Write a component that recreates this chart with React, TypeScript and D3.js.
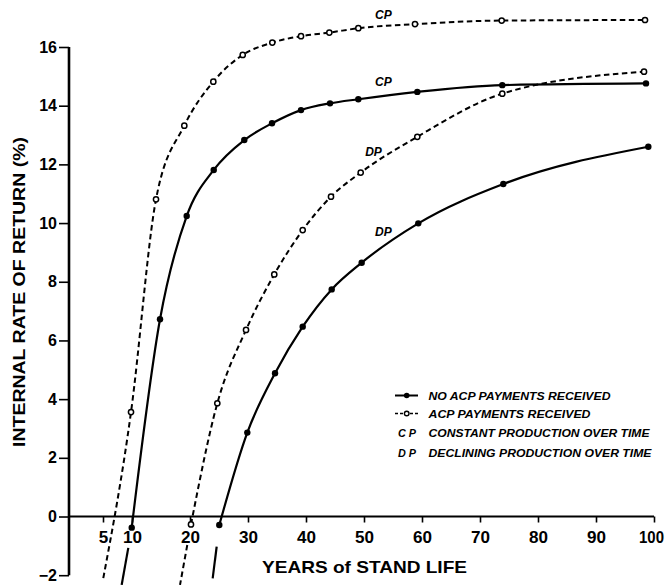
import React, { useRef, useEffect } from 'react';
import * as d3 from 'd3';

const W = 667;
const H = 585;
const FONT = '"Liberation Sans", Arial, Helvetica, sans-serif';

// ACP payments received, constant production (dashed, open circles)
const acpConstant = [
  { x: 9.83, y: 3.56 }, { x: 14.14, y: 10.81 }, { x: 19.02, y: 13.32 }, { x: 24.02, y: 14.82 },
  { x: 29.09, y: 15.73 }, { x: 34.19, y: 16.15 }, { x: 39.14, y: 16.37 }, { x: 44.02, y: 16.49 },
  { x: 49.02, y: 16.64 }, { x: 58.79, y: 16.78 }, { x: 73.74, y: 16.9 }, { x: 98.45, y: 16.92 },
];
const acpConstantLead = [{ x: 5.05, y: -2.1 }];

// no ACP payments, constant production (solid, filled circles)
const noAcpConstant = [
  { x: 9.95, y: -0.38 }, { x: 14.83, y: 6.72 }, { x: 19.43, y: 10.24 }, { x: 24.09, y: 11.81 },
  { x: 29.36, y: 12.83 }, { x: 34.14, y: 13.4 }, { x: 39.14, y: 13.85 }, { x: 44.14, y: 14.08 },
  { x: 49.02, y: 14.22 }, { x: 59.19, y: 14.47 }, { x: 73.84, y: 14.7 }, { x: 98.62, y: 14.76 },
];
const noAcpConstantTail = [{ x: 9.36, y: -1.07 }, { x: 8.22, y: -2.33 }];

// ACP payments received, declining production
const acpDeclining = [
  { x: 20.17, y: -0.27 }, { x: 24.71, y: 3.86 }, { x: 29.66, y: 6.36 }, { x: 34.53, y: 8.25 },
  { x: 39.43, y: 9.76 }, { x: 44.31, y: 10.9 }, { x: 49.43, y: 11.72 }, { x: 59.19, y: 12.94 },
  { x: 73.84, y: 14.41 }, { x: 98.28, y: 15.16 },
];
const acpDecliningTail = [{ x: 19.53, y: -0.97 }, { x: 18.28, y: -2.33 }];

// no ACP payments, declining production
const noAcpDeclining = [
  { x: 25.05, y: -0.29 }, { x: 29.88, y: 2.86 }, { x: 34.66, y: 4.88 }, { x: 39.43, y: 6.47 },
  { x: 44.43, y: 7.74 }, { x: 49.6, y: 8.65 }, { x: 59.36, y: 9.99 }, { x: 74.02, y: 11.33 },
  { x: 99.02, y: 12.6 },
];
const noAcpDecliningTail = [{ x: 24.6, y: -1.03 }, { x: 23.91, y: -2.11 }];

const yTicks = [-2, 0, 2, 4, 6, 8, 10, 12, 14, 16];
const xTicks = [5, 10, 20, 30, 40, 50, 60, 70, 80, 90, 100];

const curveLabels = [
  { text: 'CP', x: 51.9, y: 16.94 },
  { text: 'CP', x: 51.9, y: 14.67 },
  { text: 'DP', x: 50.2, y: 12.29 },
  { text: 'DP', x: 51.9, y: 9.56 },
];

const legendRows = [
  { key: 'solid', text: 'NO ACP PAYMENTS RECEIVED', len: 182 },
  { key: 'dashed', text: 'ACP PAYMENTS RECEIVED', len: 162 },
  { key: 'C P', text: 'CONSTANT PRODUCTION OVER TIME', len: 221 },
  { key: 'D P', text: 'DECLINING PRODUCTION OVER TIME', len: 223 },
];

export default function App() {
  const svgRef = useRef<SVGSVGElement>(null);

  useEffect(() => {
    if (!svgRef.current) return;
    const svg = d3.select(svgRef.current);
    svg.selectAll('*').remove();

    const x = d3.scaleLinear().domain([0, 100]).range([74, 654]);
    const y = d3.scaleLinear().domain([-2, 16]).range([575.2, 47]);
    const axisX = 69;

    // y axis
    const gy = svg.append('g').attr('transform', `translate(${axisX},0)`);
    gy.call(d3.axisLeft(y).tickValues(yTicks).tickSize(10).tickPadding(2).tickFormat(d3.format('d')))
      .call(a => a.select('.domain').remove())
      .call(a => a.selectAll('line').attr('stroke', '#000').attr('stroke-width', 1.6))
      .call(a => a.selectAll('text').attr('fill', '#000').attr('font-size', 16)
        .attr('font-weight', 700).attr('font-family', FONT));
    gy.append('line').attr('x1', 0).attr('x2', 0).attr('y1', y(16)).attr('y2', y(-2))
      .attr('stroke', '#000').attr('stroke-width', 2.6);

    // x axis along zero
    const gx = svg.append('g').attr('transform', `translate(0,${y(0)})`);
    gx.call(d3.axisBottom(x).tickValues(xTicks).tickSize(6).tickPadding(8).tickFormat(d3.format('d')))
      .call(a => a.select('.domain').remove())
      .call(a => a.selectAll('line').attr('stroke', '#000').attr('stroke-width', 1.6))
      .call(a => a.selectAll('text').attr('fill', '#000').attr('font-size', 17)
        .attr('font-weight', 700).attr('font-family', FONT)
        .attr('lengthAdjust', 'spacingAndGlyphs')
        .attr('textLength', (d: any) => (d >= 100 ? 25 : d >= 10 ? 19 : 9.5))
        .attr('dx', (d: any) => (d >= 100 ? -3 : 0)));
    gx.append('line').attr('x1', axisX).attr('x2', x(100)).attr('y1', 0).attr('y2', 0)
      .attr('stroke', '#000').attr('stroke-width', 2.2);

    // titles
    svg.append('text').attr('transform', `translate(25,292) rotate(-90)`)
      .attr('text-anchor', 'middle').attr('font-size', 17).attr('font-weight', 700)
      .attr('font-family', FONT).attr('textLength', 310).attr('lengthAdjust', 'spacingAndGlyphs')
      .text('INTERNAL RATE OF RETURN (%)');
    svg.append('text').attr('x', 262).attr('y', 572.5)
      .attr('font-size', 17).attr('font-weight', 700).attr('font-family', FONT)
      .attr('textLength', 205).attr('lengthAdjust', 'spacingAndGlyphs')
      .text('YEARS of STAND LIFE');

    const series = [
      { pts: acpConstant, lead: acpConstantLead, tail: [], dashed: true },
      { pts: noAcpConstant, lead: [], tail: noAcpConstantTail, dashed: false },
      { pts: acpDeclining, lead: [], tail: acpDecliningTail, dashed: true },
      { pts: noAcpDeclining, lead: [], tail: noAcpDecliningTail, dashed: false },
    ];

    const smooth = d3.line<{ x: number; y: number }>()
      .x(d => x(d.x)).y(d => y(d.y)).curve(d3.curveMonotoneX);
    const straight = d3.line<{ x: number; y: number }>()
      .x(d => x(d.x)).y(d => y(d.y));

    series.forEach(s => {
      const style = (p: any) => p.attr('fill', 'none').attr('stroke', '#000')
        .attr('stroke-width', s.dashed ? 2 : 2.2)
        .attr('stroke-dasharray', s.dashed ? '5.5,3.5' : null);
      svg.append('path').datum([...s.lead, ...s.pts]).attr('d', smooth).call(style);
      if (s.tail.length) svg.append('path').datum(s.tail).attr('d', straight).call(style);
      svg.append('g').selectAll('circle').data(s.pts).join('circle')
        .attr('cx', d => x(d.x)).attr('cy', d => y(d.y))
        .attr('r', s.dashed ? 2.6 : 3.2)
        .attr('fill', s.dashed ? '#fff' : '#000')
        .attr('stroke', '#000').attr('stroke-width', s.dashed ? 1.5 : 0);
    });

    // curve annotations
    svg.append('g').selectAll('text').data(curveLabels).join('text')
      .attr('x', d => x(d.x)).attr('y', d => y(d.y))
      .attr('font-size', 12).attr('font-weight', 700).attr('font-style', 'italic')
      .attr('font-family', FONT).text(d => d.text);

    // legend
    const lg = svg.append('g');
    const rowY = [399.5, 417.5, 437, 456.5];
    legendRows.forEach((r, i) => {
      const cy = rowY[i] - 4;
      if (r.key === 'solid' || r.key === 'dashed') {
        const dashed = r.key === 'dashed';
        lg.append('line').attr('x1', 395).attr('x2', 418).attr('y1', cy).attr('y2', cy)
          .attr('stroke', '#000').attr('stroke-width', dashed ? 1.6 : 2)
          .attr('stroke-dasharray', dashed ? '3,2' : null);
        lg.append('circle').attr('cx', 406.7).attr('cy', cy).attr('r', dashed ? 2.3 : 2.8)
          .attr('fill', dashed ? '#fff' : '#000').attr('stroke', '#000')
          .attr('stroke-width', dashed ? 1.4 : 0);
      } else {
        lg.append('text').attr('x', 398).attr('y', rowY[i])
          .attr('font-size', 11.5).attr('font-weight', 700).attr('font-style', 'italic')
          .attr('font-family', FONT).attr('textLength', 18).attr('lengthAdjust', 'spacingAndGlyphs')
          .text(r.key);
      }
      lg.append('text').attr('x', 428.5).attr('y', rowY[i])
        .attr('font-size', 11.5).attr('font-weight', 700).attr('font-style', 'italic')
        .attr('font-family', FONT).attr('textLength', r.len).attr('lengthAdjust', 'spacingAndGlyphs')
        .text(r.text);
    });
  }, []);

  return (
    <svg ref={svgRef} width={W} height={H}
      style={{ position: 'absolute', left: 0, top: 0, background: '#fff' }} />
  );
}
